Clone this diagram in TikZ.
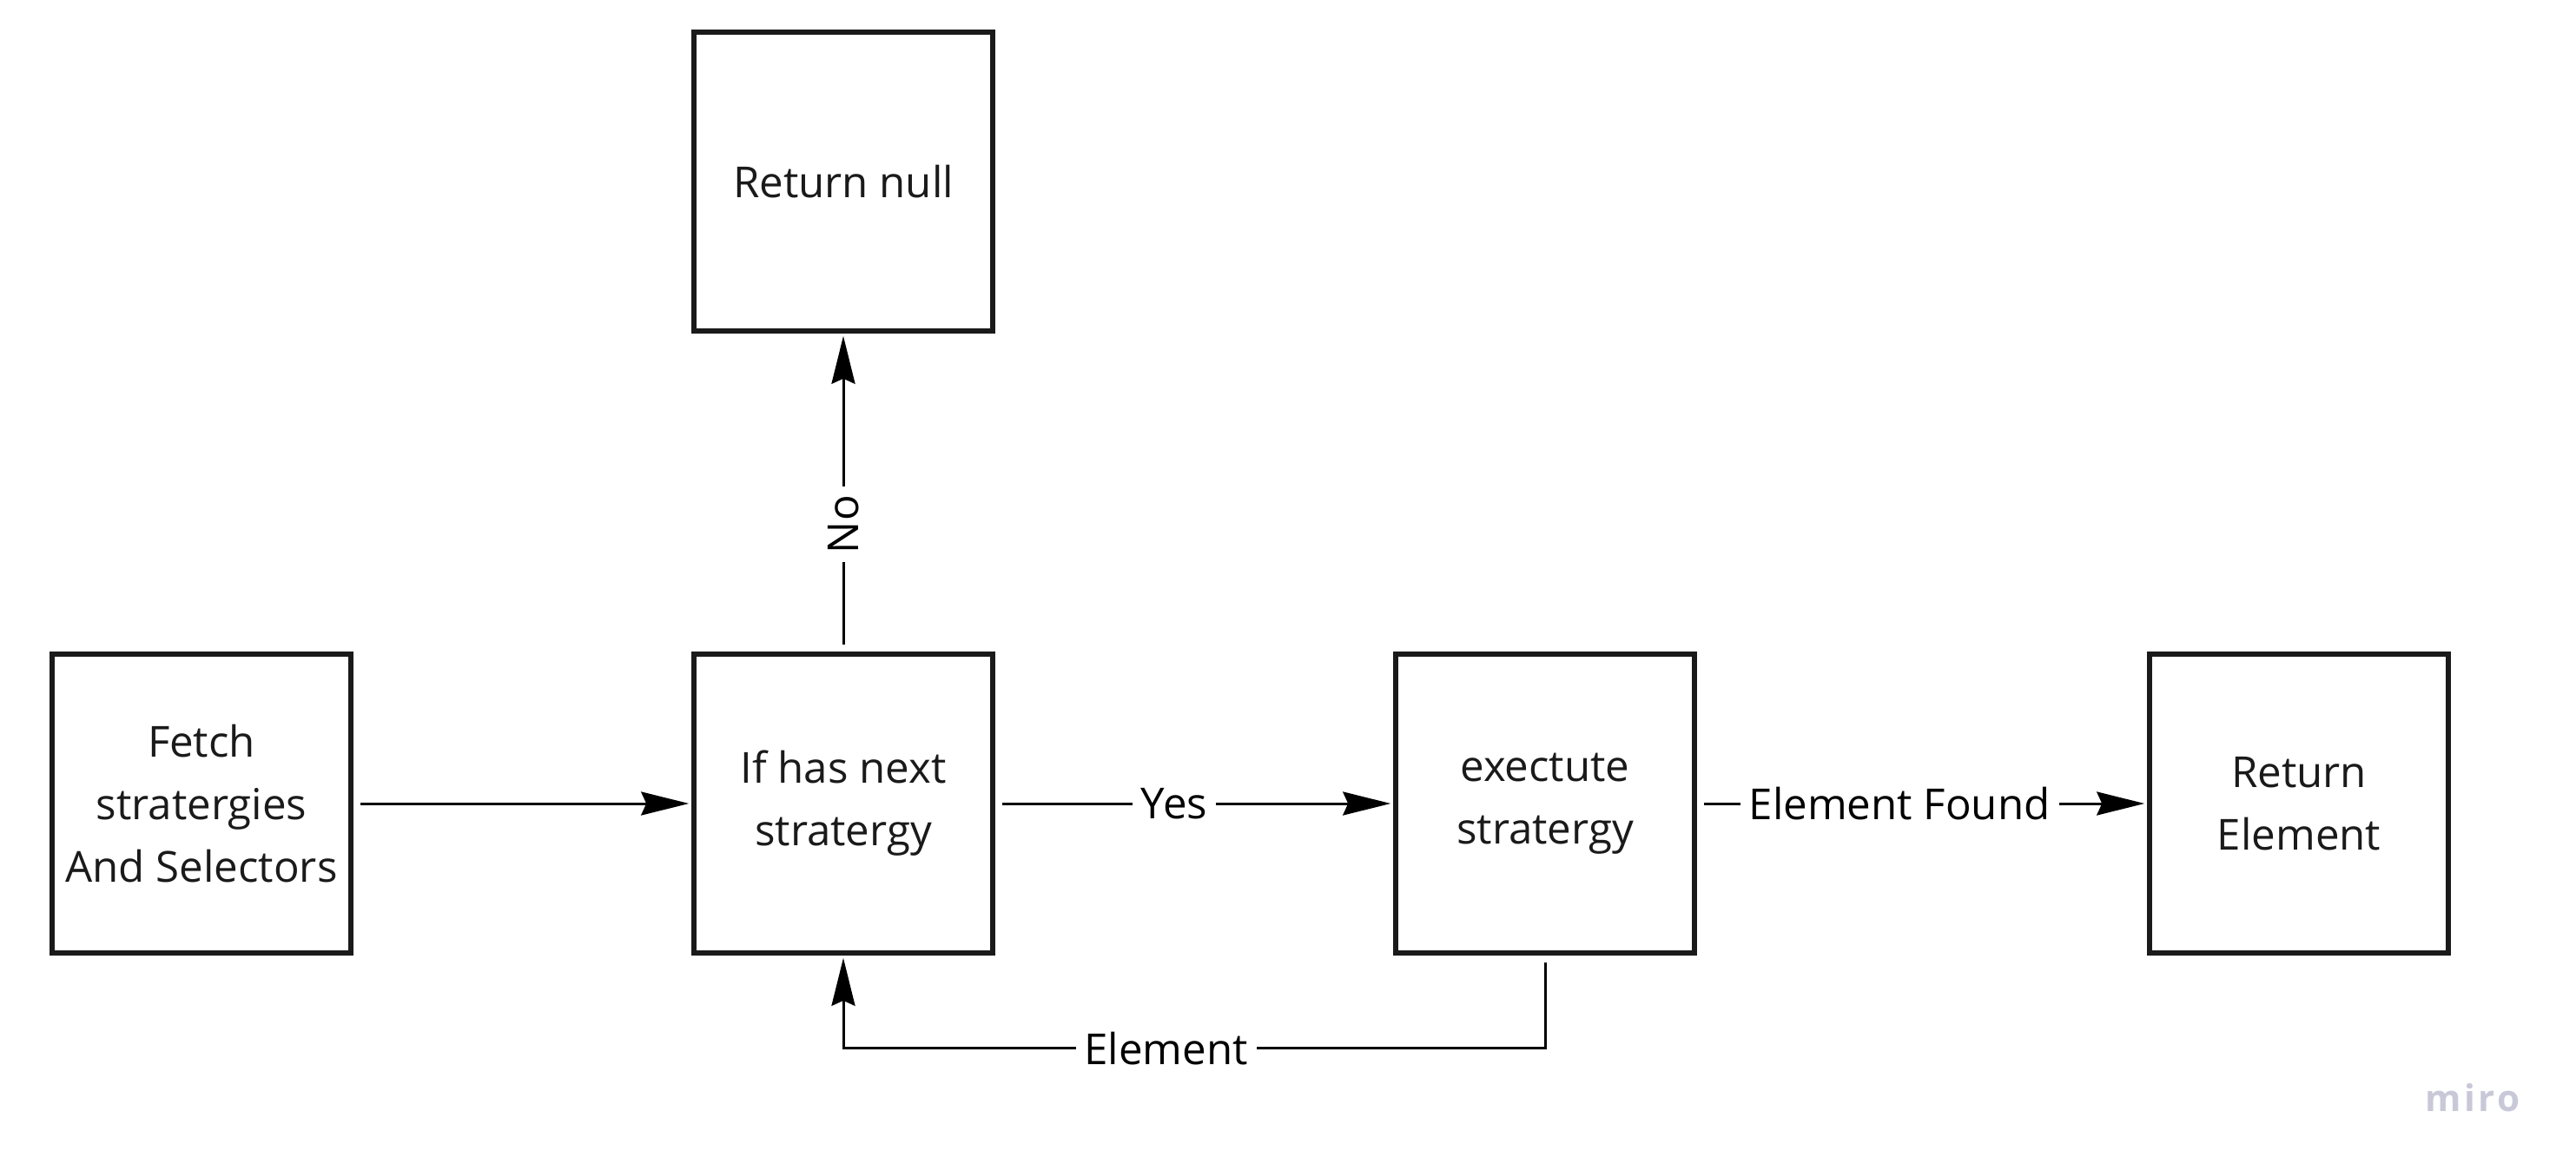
\documentclass[tikz,border=0pt]{standalone}
\usepackage{fontspec}
\setmainfont{Open Sans}
\usetikzlibrary{arrows.meta}
\definecolor{boxline}{RGB}{26,26,26}
\definecolor{mirogray}{RGB}{200,200,216}

\begin{document}
\begin{tikzpicture}[
        box/.style={draw=boxline, line width=1.6pt, minimum width=3.44cm, minimum height=3.44cm, inner sep=0pt, align=center, text=boxline, font=\fontsize{14}{20.5}\selectfont},
        flow/.style={line width=0.85pt, shorten <=0.08cm, shorten >=0.03cm, -{Stealth[length=0.55cm, width=0.27cm, inset=0.06cm]}},
        tag/.style={fill=white, inner sep=0.1cm, font=\fontsize{14}{17}\selectfont}
    ]
        \useasboundingbox (0,0) rectangle (29.66,-13.48);
        % boxes
        \node[box] (fetch) at (2.32,-9.25) {Fetch\\stratergies\\And Selectors};
        \node[box] (hasnext) at (9.71,-9.25) {If has next\\stratergy};
        \node[box] (execute) at (17.79,-9.25) {exectute\\stratergy};
        \node[box] (retelem) at (26.47,-9.25) {Return\\Element};
        \node[box] (retnull) at (9.71,-2.09) {Return null};
        % arrows
        \draw[flow] (fetch) -- (hasnext);
        \draw[flow] (hasnext) -- node[tag, pos=0.45]{Yes} (execute);
        \draw[flow] (execute) -- node[tag, pos=0.45]{Element Found} (retelem);
        \draw[flow] (hasnext) -- node[tag, pos=0.4, rotate=90]{No} (retnull);
        \draw[flow] (execute.south) -- ++(0,-1.07) coordinate (turn) -| node[tag, pos=0.27]{Element} (hasnext.south);
        \node[text=mirogray, font=\fontsize{12}{12}\selectfont\addfontfeatures{LetterSpace=8}] (miro) at (28.49,-12.64) {\textbf{miro}};
    \end{tikzpicture}
\end{document}
